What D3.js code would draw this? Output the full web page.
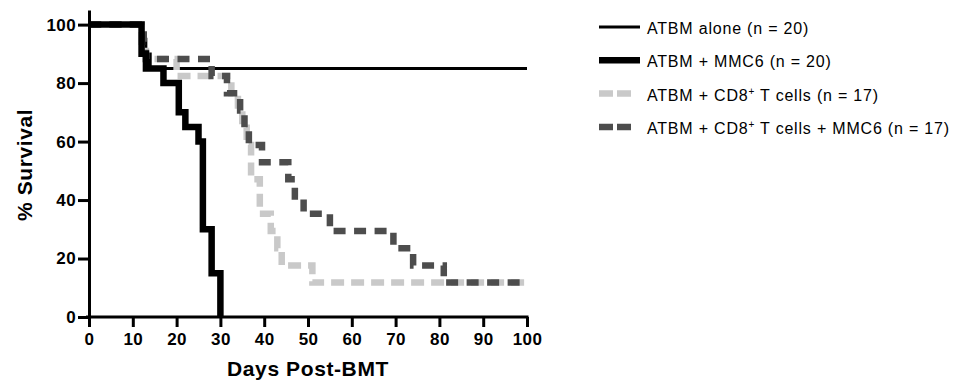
<!DOCTYPE html>
<html>
<head>
<meta charset="utf-8">
<script src="https://cdn.jsdelivr.net/npm/d3@7"></script>
<style>
  html, body { margin: 0; padding: 0; background: #fff; }
  svg { display: block; font-family: "Liberation Sans", Arial, sans-serif; }
</style>
</head>
<body>
<div id="chart"></div>
<script>
// Kaplan-Meier steps (day, % survival)
const atbmDays = [0, 12, 13, 14, 100]
const atbmSurv = [100, 95, 90, 85, 85]

const mmc6Days = [0, 12, 13, 17, 20.5, 22, 25, 26, 28, 30]
const mmc6Surv = [100, 90, 85, 80, 70, 65, 60, 30, 15, 0]

const cd8Days = [0, 12, 13, 20, 32.5, 34, 35, 36, 37, 39, 41.5, 43, 44, 51, 100]
const cd8Surv = [100, 94.1, 88.2, 82.4, 76.5, 70.6, 64.7, 58.8, 47.1, 35.3, 29.4, 23.5, 17.6, 11.8, 11.8]

const cd8MmcDays = [0, 12.5, 13, 28, 31.5, 34.5, 35.5, 36.5, 39.5, 45.5, 47, 49, 55, 69.5, 74, 81, 100]
const cd8MmcSurv = [100, 94.1, 88.2, 82.4, 76.5, 70.6, 64.7, 58.8, 52.9, 47.1, 41.2, 35.3, 29.4, 23.5, 17.6, 11.8, 11.8]

const xTicks = [0, 10, 20, 30, 40, 50, 60, 70, 80, 90, 100]
const yTicks = [0, 20, 40, 60, 80, 100]

const width = 965, height = 386
const margin = { left: 89, right: 438, top: 10, bottom: 69 }

const series = [
    { label: 'ATBM alone (n = 20)', days: atbmDays, surv: atbmSurv, color: '#000', width: 2.8, dash: null, legendDash: null },
    { label: 'ATBM + MMC6 (n = 20)', days: mmc6Days, surv: mmc6Surv, color: '#000', width: 6.5, dash: null, legendDash: null },
    { label: 'ATBM + CD8|+| T cells (n = 17)', days: cd8Days, surv: cd8Surv, color: '#c9c9c9', width: 6.5, dash: '13,7', legendDash: '14,4,14,99' },
    { label: 'ATBM + CD8|+| T cells + MMC6 (n = 17)', days: cd8MmcDays, surv: cd8MmcSurv, color: '#4d4d4d', width: 6.5, dash: '12,8.5', legendDash: '14,4,14,99' }
]

const svg = d3.select('#chart').append('svg')
    .attr('width', width)
    .attr('height', height)

const x = d3.scaleLinear().domain([0, 100]).range([margin.left, width - margin.right])
const y = d3.scaleLinear().domain([0, 105]).range([height - margin.bottom, margin.top])

// curves (drawn first so axes sit on top)
const line = d3.line()
    .x(d => x(d[0]))
    .y(d => y(d[1]))
    .curve(d3.curveStepAfter)

// back-to-front: thin black, light gray, dark gray, thick black
const drawOrder = [0, 2, 3, 1]
drawOrder.forEach(i => {
    const s = series[i]
    svg.append('path')
        .datum(d3.zip(s.days, s.surv))
        .attr('fill', 'none')
        .attr('stroke', s.color)
        .attr('stroke-width', s.width)
        .attr('stroke-dasharray', s.dash)
        .attr('d', line)
})

// axes
const xAxis = d3.axisBottom(x).tickValues(xTicks).tickSize(10).tickSizeOuter(0).tickPadding(6)
const yAxis = d3.axisLeft(y).tickValues(yTicks).tickSize(11).tickSizeOuter(0).tickPadding(2)

const gx = svg.append('g')
    .attr('transform', `translate(0,${y(0)})`)
    .call(xAxis)
const gy = svg.append('g')
    .attr('transform', `translate(${x(0)},0)`)
    .call(yAxis)

;[gx, gy].forEach(g => {
    g.select('.domain').attr('stroke', '#000').attr('stroke-width', 3)
    g.selectAll('.tick line').attr('stroke', '#000').attr('stroke-width', 3)
    g.selectAll('.tick text')
        .attr('fill', '#000')
        .attr('font-size', 17)
        .attr('font-weight', 'bold')
        .attr('letter-spacing', 0.4)
        .attr('font-family', '"Liberation Sans", Arial, sans-serif')
})
gx.select('.domain').attr('d', `M${x(0) - 3},0H${x(100) + 1.5}`)

svg.append('text')
    .attr('x', (x(0) + x(100)) / 2)
    .attr('y', 376)
    .attr('text-anchor', 'middle')
    .attr('font-size', 21)
    .attr('font-weight', 'bold')
    .attr('letter-spacing', 0.6)
    .text('Days Post-BMT')

svg.append('text')
    .attr('transform', `translate(32,${y(52)}) rotate(-90)`)
    .attr('text-anchor', 'middle')
    .attr('font-size', 21)
    .attr('font-weight', 'bold')
    .attr('letter-spacing', 0.6)
    .text('% Survival')

// legend
const legend = svg.append('g').attr('transform', 'translate(599, 27)')
const items = legend.selectAll('g')
    .data(series)
    .enter()
    .append('g')
    .attr('transform', (d, i) => `translate(0,${i * 33.3})`)

items.append('line')
    .attr('x1', 0).attr('x2', 41)
    .attr('stroke', d => d.color)
    .attr('stroke-width', d => d.width)
    .attr('stroke-dasharray', d => d.legendDash)

items.append('text')
    .attr('x', 48)
    .attr('y', 7)
    .attr('font-size', 16)
    .attr('letter-spacing', 0.8)
    .attr('fill', '#000')
    .each(function (d) {
        const parts = d.label.split('|')
        const t = d3.select(this)
        parts.forEach((p, k) => {
            const ts = t.append('tspan').text(p)
            if (k % 2 === 1) ts.attr('font-size', 10).attr('dy', -6)
            else if (k > 0) ts.attr('dy', 6)
        })
    })
</script>
</body>
</html>
